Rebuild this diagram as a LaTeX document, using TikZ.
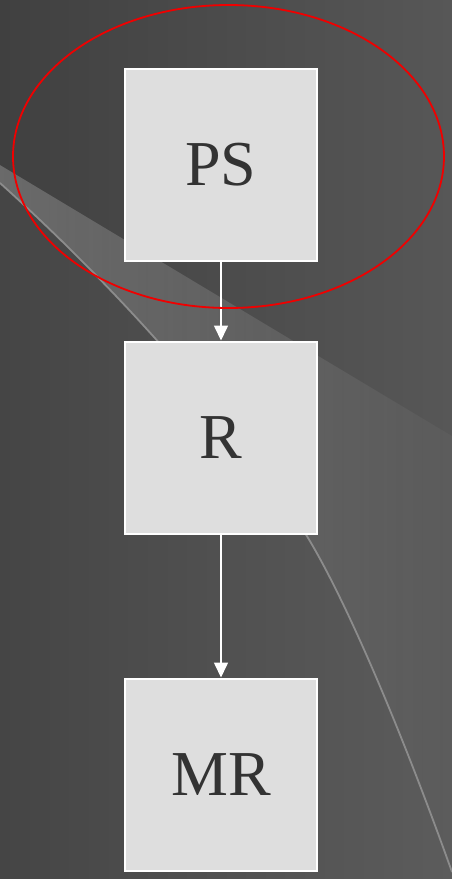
\documentclass[tikz,border=0pt]{standalone}
\usepackage{fontspec}
\setmainfont{Liberation Serif}
\usetikzlibrary{positioning}
\usetikzlibrary{fadings}
\usetikzlibrary{arrows.meta}
\definecolor{bgleft}{HTML}{404040}
\definecolor{bgright}{HTML}{575757}
\definecolor{boxfill}{HTML}{DEDEDE}
\definecolor{boxtext}{HTML}{333333}
\definecolor{ringred}{HTML}{F00000}
\definecolor{swooshgray}{HTML}{8C8C8C}
\tikzset{stage/.style={rectangle,fill=boxfill,draw=white,line width=2pt,
minimum size=192pt,inner sep=0pt,text=boxtext,
font=\fontsize{64}{64}\selectfont},
link/.style={draw=white,line width=1.6pt,-{Triangle[width=14pt,length=15pt]}},
ring/.style={draw=ringred,line width=1.8pt},
swoosh/.style={draw=swooshgray,line width=1.8pt}}

\begin{document}
\begin{tikzpicture}[x=1pt,y=-1pt]
  \useasboundingbox (0,0) rectangle (452,879);
  % backdrop
  \shade [left color=bgleft,right color=bgright] (0,0) rectangle (452,879);
  \fill [white,opacity=0.03] (0,165) -- (452,436) -- (452,879) -- (0,879) -- cycle;
  \fill [white,opacity=0.2,path fading=east] (0,165) -- (452,436) -- (452,872)
    .. controls (402,732) and (345,597) .. (305,533)
    .. controls (230,413) and (110,282) .. (0,183) -- cycle;
  \draw [swoosh] (0,183) .. controls (110,282) and (230,413) .. (305,533)
    .. controls (345,597) and (402,732) .. (452,872);

  \node (ps) [stage] at (221,164.5) {PS};
  \node (r) [stage,below=79pt of ps] {R};
  \node (mr) [stage,below=143pt of r] {MR};

  \draw [link] (ps) -- (r);
  \draw [link] (r) -- (mr);

  \draw [ring] (228.5,156.5) ellipse [x radius=215.5,y radius=151.5];
\end{tikzpicture}
\end{document}
